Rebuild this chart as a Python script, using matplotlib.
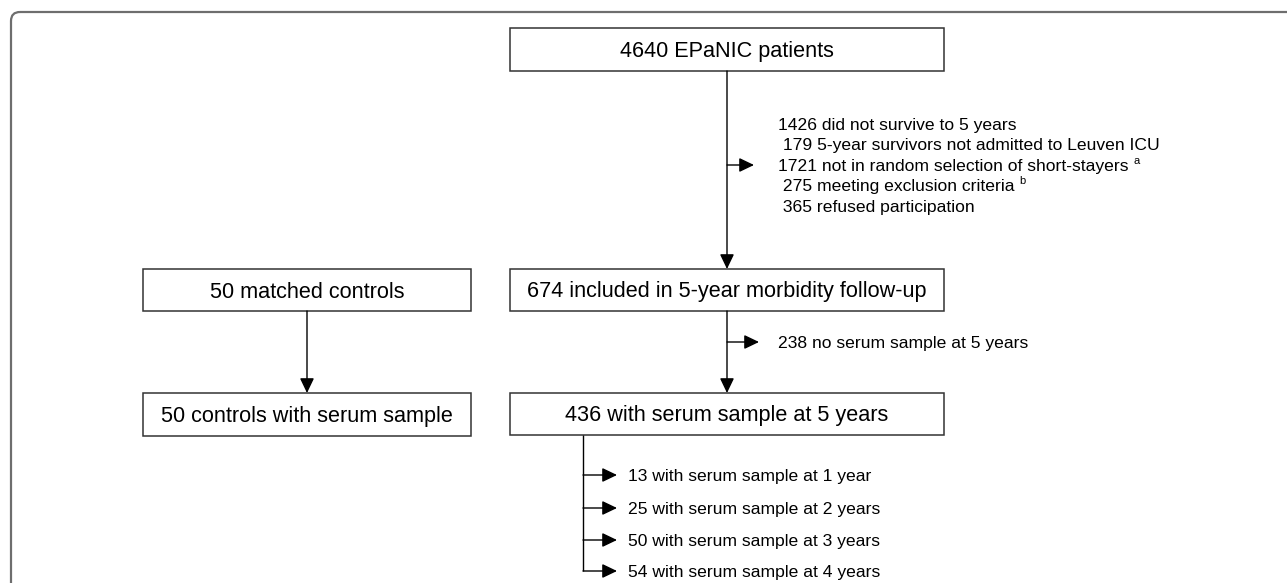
import matplotlib.pyplot as plt
from matplotlib.patches import Rectangle, FancyBboxPatch

plt.rcParams['font.family'] = ['Liberation Sans', 'DejaVu Sans']

# counts shown in the flow chart
total_patients = 4640
excluded_counts = [1426, 179, 1721, 275, 365]
excluded_reasons = ['did not survive to 5 years',
                    '5-year survivors not admitted to Leuven ICU',
                    'not in random selection of short-stayers',
                    'meeting exclusion criteria',
                    'refused participation']
excluded_marks = ['', '', 'a', 'b', '']
included = 674
no_serum = 238
with_serum = 436
controls = 50
earlier_years = [1, 2, 3, 4]
earlier_counts = [13, 25, 50, 54]

W, H = 1287, 583
fig = plt.figure(figsize=(W / 100, H / 100), dpi=100)
ax = fig.add_axes([0, 0, 1, 1])
ax.set_xlim(0, W)
ax.set_ylim(H, 0)
ax.axis('off')

# outer frame, runs off the right and bottom edges
frame = FancyBboxPatch((11, 12), 1400, 700, boxstyle='round,pad=0,rounding_size=9',
                       fc='none', ec='#6e6e6e', lw=1.6)
ax.add_patch(frame)

box_fs = 15.6
side_fs = 12.6


def box(x0, y0, x1, y1, label):
    ax.add_patch(Rectangle((x0, y0), x1 - x0, y1 - y0, fc='white', ec='#333333', lw=1.1))
    # baseline sits about half a cap height below the middle
    ax.text((x0 + x1) / 2, (y0 + y1) / 2 + 7.5, label, ha='center', va='baseline',
            fontsize=box_fs)


def side_text(x, y, s):
    return ax.text(x, y + 6, s, ha='left', va='baseline', fontsize=side_fs)


def arrow(x0, y0, x1, y1):
    ax.annotate('', xy=(x1, y1), xytext=(x0, y0),
                arrowprops=dict(arrowstyle='-|>,head_length=0.75,head_width=0.36',
                                lw=1.0, color='black', shrinkA=0, shrinkB=0,
                                mutation_scale=12))


def line(xs, ys):
    ax.plot(xs, ys, color='black', lw=1.0, solid_capstyle='butt')


box(510, 28, 944, 71, f'{total_patients} EPaNIC patients')
box(510, 269, 944, 311, f'{included} included in 5-year morbidity follow-up')
box(143, 269, 471, 311, f'{controls} matched controls')
box(143, 393, 471, 436, f'{controls} controls with serum sample')
box(510, 393, 944, 435, f'{with_serum} with serum sample at 5 years')

cx = 727
arrow(cx, 71, cx, 269)
arrow(cx, 165, 754, 165)

fig.canvas.draw()
renderer = fig.canvas.get_renderer()
inv = ax.transData.inverted()

line_y = [124, 144, 165, 185, 206]
for i, (n, reason, mark) in enumerate(zip(excluded_counts, excluded_reasons, excluded_marks)):
    lead = '' if i in (0, 2) else ' '
    t = side_text(778, line_y[i], f'{lead}{n} {reason}')
    if mark:
        bb = t.get_window_extent(renderer)
        xend = inv.transform((bb.x1, bb.y1))[0]
        ax.text(xend + 5, line_y[i] - 4, mark, ha='left', va='center', fontsize=8)

arrow(cx, 311, cx, 393)
arrow(cx, 342, 759, 342)
side_text(778, 342, f'{no_serum} no serum sample at 5 years')

arrow(307, 311, 307, 393)

bx = 583
branch_y = [475, 508, 540, 571]
line([bx, bx], [435, branch_y[-1]])
for yr, n, y in zip(earlier_years, earlier_counts, branch_y):
    arrow(bx, y, 617, y)
    unit = 'year' if yr == 1 else 'years'
    side_text(628, y, f'{n} with serum sample at {yr} {unit}')

fig.savefig('out.png', dpi=100)
